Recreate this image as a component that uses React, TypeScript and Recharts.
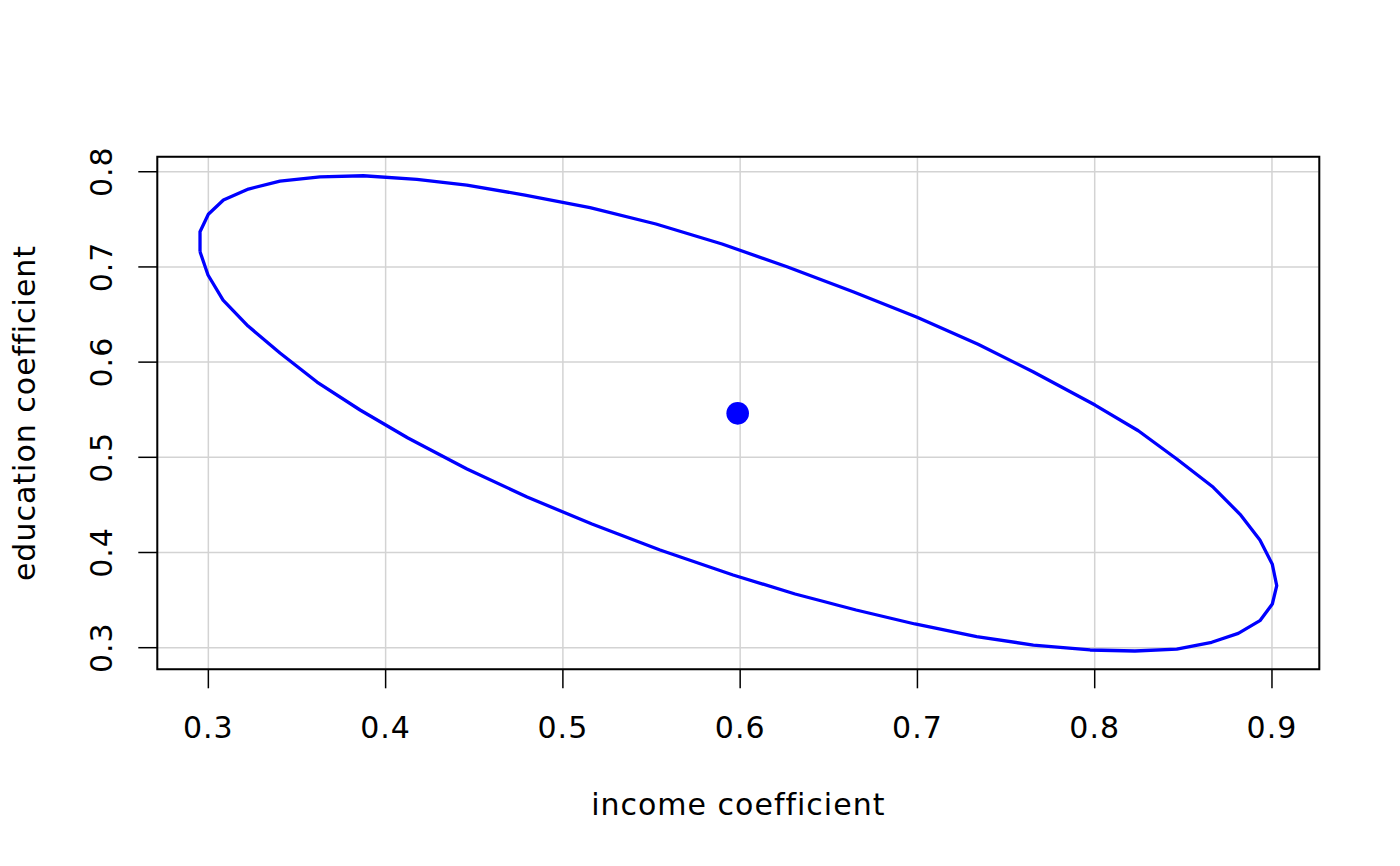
import React from 'react';
import {
  ComposedChart,
  Line,
  Scatter,
  XAxis,
  YAxis,
  CartesianGrid,
  ReferenceArea,
} from 'recharts';

// confidence ellipse outline (income, education)
const ellipseIncome = [
  0.2953, 0.2953, 0.3, 0.3085, 0.3226, 0.3404, 0.363, 0.3874, 0.4176, 0.4458,
  0.4786, 0.5153, 0.5525, 0.5898, 0.6264, 0.6637, 0.6998, 0.7342, 0.7652, 0.8002,
  0.8246, 0.8463, 0.8669, 0.882, 0.8932, 0.9002, 0.9027, 0.9002, 0.8932, 0.881,
  0.866, 0.8463, 0.8227, 0.7974, 0.7654, 0.7334, 0.6986, 0.6654, 0.631, 0.596,
  0.5548, 0.5164, 0.4798, 0.4459, 0.4126, 0.3856, 0.3613, 0.3404, 0.3224, 0.3083,
  0.2998,
];
const ellipseEducation = [
  0.716, 0.737, 0.7553, 0.7703, 0.7818, 0.7902, 0.7947, 0.7958, 0.792, 0.786,
  0.7755, 0.7624, 0.7451, 0.7241, 0.7002, 0.6739, 0.6471, 0.6187, 0.5899, 0.5549,
  0.5279, 0.4982, 0.4685, 0.4401, 0.4131, 0.3876, 0.3651, 0.3459, 0.3284, 0.3151,
  0.3057, 0.2986, 0.2965, 0.2976, 0.3028, 0.3116, 0.3249, 0.3396, 0.3564, 0.3764,
  0.4026, 0.4299, 0.4583, 0.4877, 0.5203, 0.5497, 0.5791, 0.6096, 0.6379, 0.6652,
  0.6915,
];

// point estimate
const centerIncome = 0.5986;
const centerEducation = 0.5462;

const xTicks = [0.3, 0.4, 0.5, 0.6, 0.7, 0.8, 0.9];
const yTicks = [0.3, 0.4, 0.5, 0.6, 0.7, 0.8];
const xDomain: [number, number] = [0.2712, 0.9267];
const yDomain: [number, number] = [0.2773, 0.8158];

const FONT = '"DejaVu Sans", sans-serif';
const FONT_SIZE = 30;
const SPACING = 1;
const BLUE = '#0000ff';

const W = 1400;
const H = 866;
const PLOT_LEFT = 157.3;
const PLOT_TOP = 156.7;
const PLOT_RIGHT = 1319.3;
const PLOT_BOTTOM = 669.3;

const outline = ellipseIncome.map((x, i) => ({ x, y: ellipseEducation[i] }));
const closedOutline = [...outline, outline[0]];
const center = [{ x: centerIncome, y: centerEducation }];

const XTick = (props: any) => {
  const { x, payload } = props;
  return (
    <text x={x} y={738.3} textAnchor="middle" fontFamily={FONT} fontSize={FONT_SIZE} letterSpacing={SPACING} fill="#000">
      {payload.value.toFixed(1)}
    </text>
  );
};

const YTick = (props: any) => {
  const { y, payload } = props;
  return (
    <text
      transform={`translate(111.7, ${y}) rotate(-90)`}
      textAnchor="middle"
      fontFamily={FONT}
      fontSize={FONT_SIZE}
      letterSpacing={SPACING}
      fill="#000"
    >
      {payload.value.toFixed(1)}
    </text>
  );
};

const App: React.FC = () => {
  return (
    <div style={{ position: 'absolute', left: 0, top: 0, width: W, height: H, background: '#fff' }}>
      <ComposedChart
        width={W}
        height={H}
        margin={{ top: PLOT_TOP, right: W - PLOT_RIGHT, bottom: 0, left: 0 }}
      >
        <CartesianGrid stroke="#d3d3d3" strokeWidth={1.5} />
        <XAxis
          type="number"
          dataKey="x"
          domain={xDomain}
          ticks={xTicks}
          allowDataOverflow
          height={H - PLOT_BOTTOM}
          axisLine={false}
          tickLine={{ stroke: '#000', strokeWidth: 1.5 }}
          tickSize={19}
          tick={<XTick />}
          interval={0}
        />
        <YAxis
          type="number"
          dataKey="y"
          domain={yDomain}
          ticks={yTicks}
          allowDataOverflow
          width={PLOT_LEFT}
          axisLine={false}
          tickLine={{ stroke: '#000', strokeWidth: 1.5 }}
          tickSize={19}
          tick={<YTick />}
          interval={0}
        />
        <ReferenceArea
          x1={xDomain[0]}
          x2={xDomain[1]}
          y1={yDomain[0]}
          y2={yDomain[1]}
          fill="none"
          stroke="#000"
          strokeWidth={2}
          ifOverflow="visible"
        />
        <Line
          data={closedOutline}
          dataKey="y"
          type="linear"
          stroke={BLUE}
          strokeWidth={3.3}
          strokeLinejoin="round"
          dot={false}
          activeDot={false}
          isAnimationActive={false}
        />
        <Scatter
          data={center}
          dataKey="y"
          shape={(p: any) => <circle cx={p.cx} cy={p.cy} r={11.3} fill={BLUE} />}
          isAnimationActive={false}
        />
        <text x={(PLOT_LEFT + PLOT_RIGHT) / 2} y={815} textAnchor="middle" fontFamily={FONT} fontSize={FONT_SIZE} letterSpacing={SPACING} fill="#000">
          income coefficient
        </text>
        <text
          transform={`translate(35, ${(PLOT_TOP + PLOT_BOTTOM) / 2}) rotate(-90)`}
          textAnchor="middle"
          fontFamily={FONT}
          fontSize={FONT_SIZE}
          letterSpacing={SPACING}
          fill="#000"
        >
          education coefficient
        </text>
      </ComposedChart>
    </div>
  );
};

export default App;
